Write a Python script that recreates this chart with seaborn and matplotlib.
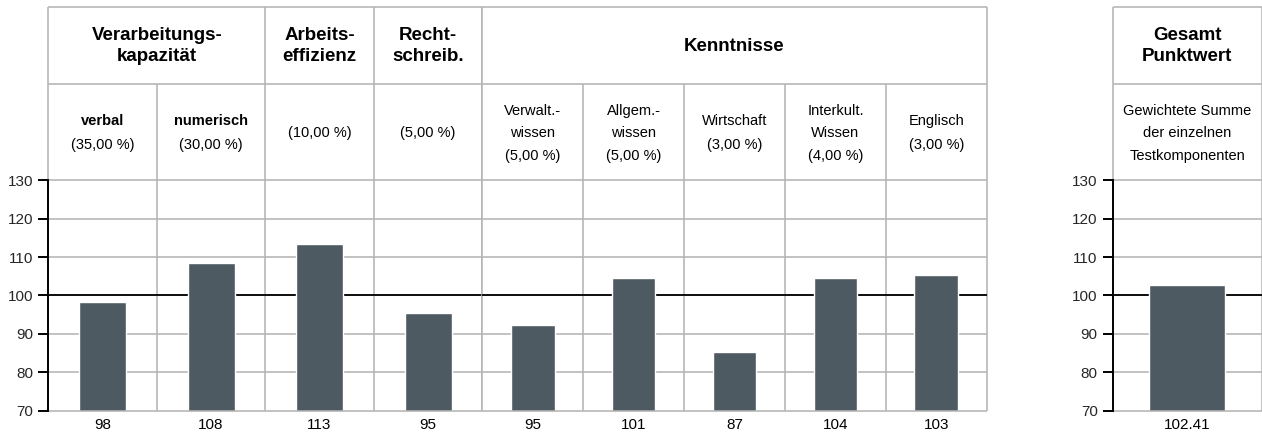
import matplotlib
matplotlib.use("Agg")
import matplotlib.pyplot as plt
import seaborn as sns
import pandas as pd

# ---------------- data ----------------
group_a_keys = ["verbal", "numerisch", "arbeitseffizienz", "rechtschreibung"]
group_a_values = [98.3, 108.4, 113.4, 95.4]
group_a_labels = ["98", "108", "113", "95"]

group_b_keys = ["verwaltungswissen", "allgemeinwissen", "wirtschaft", "interkult_wissen", "englisch"]
group_b_values = [92.4, 104.6, 85.4, 104.6, 105.4]
group_b_labels = ["95", "101", "87", "104", "103"]

total_keys = ["gesamt"]
total_values = [102.6]
total_labels = ["102.41"]

# header groups: (title, first column, last column + 1)
group_a_headers = [("Verarbeitungs-\nkapazität", 0, 2), ("Arbeits-\neffizienz", 2, 3), ("Recht-\nschreib.", 3, 4)]
group_b_headers = [("Kenntnisse", 0, 5)]
total_headers = [("Gesamt\nPunktwert", 0, 1)]

# sub headers: list of (text, weight) lines per column
group_a_sub = [
    [("verbal", "bold"), ("(35,00 %)", "normal")],
    [("numerisch", "bold"), ("(30,00 %)", "normal")],
    [("(10,00 %)", "normal")],
    [("(5,00 %)", "normal")],
]
group_b_sub = [
    [("Verwalt.-", "normal"), ("wissen", "normal"), ("(5,00 %)", "normal")],
    [("Allgem.-", "normal"), ("wissen", "normal"), ("(5,00 %)", "normal")],
    [("Wirtschaft", "normal"), ("(3,00 %)", "normal")],
    [("Interkult.", "normal"), ("Wissen", "normal"), ("(4,00 %)", "normal")],
    [("Englisch", "normal"), ("(3,00 %)", "normal")],
]
total_sub = [
    [("Gewichtete Summe", "normal"), ("der einzelnen", "normal"), ("Testkomponenten", "normal")],
]

y_ticks = [70, 80, 90, 100, 110, 120, 130]

# ---------------- style ----------------
sns.set_style("white")
plt.rcParams["font.family"] = ["Liberation Sans", "DejaVu Sans"]

BAR = "#4e5a61"
GRID = "#b4b4b4"
LW = 1.15
Y_MIN, Y_PLOT_TOP, Y_HEAD_SEP, Y_TOP = 70, 130, 155, 175

W, H = 1262, 432
fig = plt.figure(figsize=(W / 100, H / 100), dpi=100)

bottom = (H - 410.7) / H
height = (410.7 - 7.3) / H


def make_axes(x0, x1):
    return fig.add_axes([x0 / W, bottom, (x1 - x0) / W, height])


def draw_panel(ax, keys, values, labels, headers, subs, bar_width, show_y):
    n = len(keys)
    df = pd.DataFrame({"key": keys, "value": values})
    sns.barplot(data=df, x="key", y="value", order=keys, color=BAR,
                width=bar_width, ax=ax, saturation=1, zorder=2)
    ax.set_xlim(-0.5, n - 0.5)
    ax.set_ylim(Y_MIN, Y_TOP)
    ax.set_xlabel("")
    ax.set_ylabel("")
    ax.set_xticks(range(n))
    ax.set_xticklabels(labels)
    ax.tick_params(axis="x", length=0, pad=5, labelsize=11, colors="black")

    for s in ["top", "right", "bottom"]:
        ax.spines[s].set_visible(False)
    if show_y:
        ax.spines["left"].set_bounds(Y_MIN, Y_PLOT_TOP)
        ax.spines["left"].set_color("black")
        ax.spines["left"].set_linewidth(1.4)
        ax.spines["left"].set_zorder(4)
        ax.set_yticks(y_ticks)
        ax.tick_params(axis="y", direction="out", length=7, width=1.4,
                       color="black", pad=3.8, labelsize=11, left=True)
        ax.vlines(-0.5, Y_PLOT_TOP, Y_TOP, color=GRID, lw=LW, clip_on=False, zorder=1)
    else:
        ax.spines["left"].set_visible(False)
        ax.set_yticks([])
        ax.vlines(-0.5, Y_MIN, Y_TOP, color=GRID, lw=LW, clip_on=False, zorder=1)

    # horizontal grid lines
    for y in y_ticks[1:] + [Y_HEAD_SEP, Y_TOP]:
        ax.hlines(y, -0.5, n - 0.5, color=GRID, lw=LW, clip_on=False, zorder=1)
    ax.hlines(100, -0.5, n - 0.5, color="black", lw=1.3, clip_on=False, zorder=1.5)
    ax.hlines(Y_MIN, -0.5, n - 0.5, color=GRID, lw=LW, clip_on=False, zorder=3)

    # vertical column lines (plot + sub-header rows)
    for i in range(1, n + 1):
        ax.vlines(i - 0.5, Y_MIN, Y_HEAD_SEP, color=GRID, lw=LW, clip_on=False, zorder=1)
    # vertical group lines (header row)
    for _, a, b in headers:
        ax.vlines(b - 0.5, Y_HEAD_SEP, Y_TOP, color=GRID, lw=LW, clip_on=False, zorder=1)

    # header texts
    for title, a, b in headers:
        lines = title.split("\n")
        xc = (a + b - 1) / 2
        step = 5.46
        c = 164.8
        for k, line in enumerate(lines):
            y = c + step * ((len(lines) - 1) / 2 - k)
            ax.text(xc, y, line, ha="center", va="center", fontsize=13.5,
                    fontweight="bold", color="black")

    # sub-header texts
    for i, cell in enumerate(subs):
        m = len(cell)
        step = 6.3 if m == 2 else 5.8
        c = 142.2
        for k, (line, wgt) in enumerate(cell):
            y = c + step * ((m - 1) / 2 - k)
            ax.text(i, y, line, ha="center", va="center", fontsize=10.5,
                    fontweight=wgt, color="black")


ax1 = make_axes(48.3, 482.3)
ax2 = make_axes(482.3, 986.7)
ax3 = make_axes(1112.7, 1262)

draw_panel(ax1, group_a_keys, group_a_values, group_a_labels, group_a_headers, group_a_sub, 0.433, True)
draw_panel(ax2, group_b_keys, group_b_values, group_b_labels, group_b_headers, group_b_sub, 0.433, False)
draw_panel(ax3, total_keys, total_values, total_labels, total_headers, total_sub, 0.51, True)

fig.savefig("out.png", dpi=100)
